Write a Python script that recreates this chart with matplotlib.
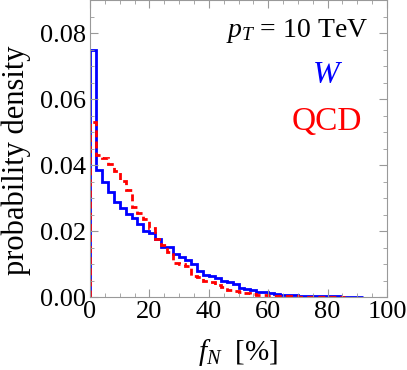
import numpy as np
import matplotlib
matplotlib.use('Agg')
import matplotlib.pyplot as plt
from matplotlib.ticker import MultipleLocator

# histogram values, bins of width 2 starting at 0
w_vals = [0.075, 0.0385, 0.0348, 0.0317, 0.0287, 0.0270, 0.0253, 0.0240, 0.0221, 0.0201,
          0.0193, 0.0175, 0.0153, 0.0152, 0.0130, 0.0120, 0.0112, 0.0099, 0.0078, 0.0066,
          0.0064, 0.0057, 0.0048, 0.0046, 0.0039, 0.0029, 0.0024, 0.0023, 0.0016, 0.0016,
          0.0011, 0.0010, 0.0007, 0.0006, 0.0005, 0.0004, 0.0003, 0.0003, 0.0003, 0.0002,
          0.0002, 0.0002, 0.0001, 0.0001, 0.0001, 0.0001]
qcd_vals = [0.053, 0.043, 0.042, 0.0404, 0.0383, 0.0353, 0.0323, 0.0272, 0.0254, 0.0236,
            0.0209, 0.0175, 0.0158, 0.0137, 0.0103, 0.0099, 0.0093, 0.0065, 0.0062, 0.0050,
            0.0045, 0.0037, 0.0030, 0.0022, 0.0018, 0.0015, 0.0013, 0.0010, 0.0007, 0.0006,
            0.0004, 0.0003, 0.0002, 0.0002, 0.0002, 0.0001, 0.0001, 0.0001, 0.0001, 0.0001,
            0.0001, 0.0001, 0.0001]
bin_width = 2
w_edges = np.arange(len(w_vals) + 1) * bin_width
qcd_edges = np.arange(len(qcd_vals) + 1) * bin_width

plt.rcParams['font.family'] = ['Liberation Serif', 'DejaVu Serif']
plt.rcParams['mathtext.fontset'] = 'custom'
plt.rcParams['mathtext.rm'] = 'Liberation Serif'
plt.rcParams['mathtext.it'] = 'Liberation Serif:italic'

fig = plt.figure(figsize=(4.07, 3.70), dpi=100)
ax = fig.add_axes([0.221, 0.197, 0.730, 0.803])

ax.stairs(w_vals, w_edges, baseline=0, color='blue', lw=2)
ax.stairs(qcd_vals, qcd_edges, baseline=0, color='red', lw=2, linestyle=(0, (2.5, 1.5)))

ax.set_xlim(0, 100)
ax.set_ylim(0, 0.09)
ax.xaxis.set_major_locator(MultipleLocator(20))
ax.xaxis.set_minor_locator(MultipleLocator(5))
ax.yaxis.set_major_locator(MultipleLocator(0.02))
ax.yaxis.set_minor_locator(MultipleLocator(0.005))
ax.yaxis.set_major_formatter(matplotlib.ticker.FormatStrFormatter('%.2f'))

gray = '#999999'
for s in ax.spines.values():
    s.set_color(gray)
ax.tick_params(which='both', direction='in', top=True, right=True, color=gray,
               labelsize=19, labelcolor='black')
ax.tick_params(which='major', length=6, pad=3)
ax.tick_params(which='minor', length=3)

ax.set_xlabel(r'$f_N$  [%]', fontsize=21, labelpad=10)
ax.set_ylabel('probability density', fontsize=22)
ax.yaxis.set_label_coords(-0.197, 0.46)

ax.text(93.6, 0.0788, r'$p_T$ = 10 TeV', ha='right', va='baseline', fontsize=20)
ax.text(79.8, 0.0648, r'$W$', ha='center', va='baseline', fontsize=23, color='blue')
ax.text(79.8, 0.0505, 'QCD', ha='center', va='baseline', fontsize=24, color='red')

fig.savefig('out.png', dpi=100)
